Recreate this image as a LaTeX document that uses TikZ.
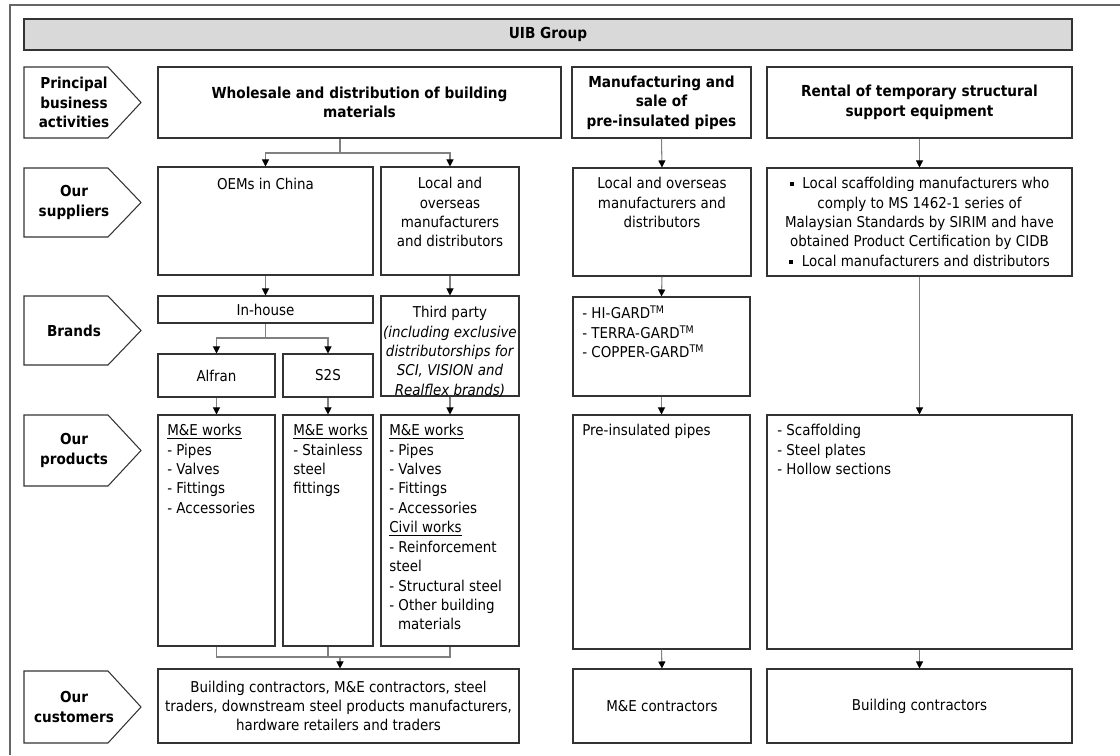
\documentclass[tikz,border=0pt]{standalone}
\usepackage{fontspec}
\setmainfont{DejaVu Sans Condensed}
\usetikzlibrary{arrows.meta,fit}
\definecolor{hdrfill}{HTML}{D9D9D9}
\begin{document}
\begin{tikzpicture}[x=0.02cm,y=-0.02cm,
  box/.style={draw=black!80, line width=0.6pt, inner sep=0pt},
  conn/.style={draw=black!50, line width=0.6pt},
  arr/.style={conn, -{Triangle[length=4pt,width=4pt,color=black]}},
  txt/.style={font=\fontsize{8.5}{11.05}\selectfont, inner sep=0pt},
  bld/.style={font=\bfseries\fontsize{8.65}{11.05}\selectfont, inner sep=0pt, align=center},
  lbl/.style={font=\bfseries\fontsize{8.6}{11.05}\selectfont, inner sep=0pt, align=center},
  pent/.style={draw=black!80, line width=0.6pt}]
\useasboundingbox (0,0) rectangle (1120,755);
\newcommand\pentag[3]{%
  \draw[pent] (24,#1) -- (108,#1) -- (141,{(#1+#2)/2}) -- (108,#2) -- (24,#2) -- cycle;
  \node[lbl] (#3) at (74,{(#1+#2)/2}) {\pentlabel};}
\newcommand\bsq{\rule[1.6pt]{2.3pt}{2.3pt}\hspace{5pt}}
% outer frame
\draw[black!60, line width=0.6pt] (1120,5) -- (10,5) -- (10,755);
% header
\node[box, fill=hdrfill, fit={(24,19) (1072,50)}] (hdr) {};
\node[bld] (hdrt) at (hdr) {UIB Group};
% left labels
\def\pentlabel{Principal\\business\\activities}\pentag{67}{138}{lp1}
\def\pentlabel{Our\\suppliers}\pentag{168}{237}{lp2}
\def\pentlabel{Brands}\pentag{296}{365}{lp3}
\def\pentlabel{Our\\products}\pentag{415}{486}{lp4}
\def\pentlabel{Our\\customers}\pentag{671}{743}{lp5}
% row 1
\node[box, fit={(158,67) (561,138)}] (wd) {};
\node[bld] at (wd) {Wholesale and distribution of building\\materials};
\node[box, fit={(572,67) (751,138)}] (mfg) {};
\node[bld] at (mfg) {Manufacturing and\\sale of\\pre-insulated pipes};
\node[box, fit={(767,67) (1072,138)}] (rent) {};
\node[bld] at (rent) {Rental of temporary structural\\support equipment};
% row 2 suppliers
\node[box, fit={(158,167) (373,275)}] (oem) {};
\node[txt, anchor=north] at (265.5,178) {OEMs in China};
\node[box, fit={(381,167) (519,275)}] (loc) {};
\node[txt, anchor=north, align=center] at (450,177) {Local and\\overseas\\manufacturers\\and distributors};
\node[box, fit={(573,168) (751,276)}] (msup) {};
\node[txt, anchor=north, align=center] at (662,177) {Local and overseas\\manufacturers and\\distributors};
\node[box, fit={(767,168) (1072,276)}] (rsup) {};
\node[txt, anchor=north, align=center] at (919.5,177) {\bsq Local scaffolding manufacturers who\\comply to MS 1462-1 series of\\Malaysian Standards by SIRIM and have\\obtained Product Certification by CIDB\\\bsq Local manufacturers and distributors};
% row 3 brands
\node[box, fit={(158,296) (373,323)}] (inh) {};
\node[txt] at (inh) {In-house};
\node[box, fit={(381,296) (519,396)}] (thp3) {};
\node[txt, anchor=north, align=center] at (450,306) {Third party\\\textit{(including exclusive}\\\textit{distributorships for}\\\textit{SCI, VISION and}\\\textit{Realflex brands)}};
\node[box, fit={(573,297) (750,396)}] (hig) {};
\node[txt, anchor=north west, align=left] at (582,306) {- HI-GARD\textsuperscript{TM}\\- TERRA-GARD\textsuperscript{TM}\\- COPPER-GARD\textsuperscript{TM}};
\node[box, fit={(158,354) (275,397)}] (alf) {};
\node[txt] at (alf) {Alfran};
\node[box, fit={(283,354) (373,397)}] (s2s) {};
\node[txt] at (s2s) {S2S};
% row 4 products
\node[box, fit={(158,415) (275,646)}] (alfp) {};
\node[txt, anchor=north west, align=left] at (167,424) {\underline{M\&E works}\\- Pipes\\- Valves\\- Fittings\\- Accessories};
\node[box, fit={(283,415) (373,646)}] (s2sp) {};
\node[txt, anchor=north west, align=left] at (293,424) {\underline{M\&E works}\\- Stainless\\steel\\fittings};
\node[box, fit={(381,415) (519,646)}] (thp) {};
\node[txt, anchor=north west, align=left] at (389,424) {\underline{M\&E works}\\- Pipes\\- Valves\\- Fittings\\- Accessories\\\underline{Civil works}\\- Reinforcement\\steel\\- Structural steel\\- Other building\\\hspace*{5pt}materials};
\node[box, fit={(573,415) (750,649)}] (pip) {};
\node[txt, anchor=north west] at (582,424) {Pre-insulated pipes};
\node[box, fit={(767,415) (1072,649)}] (rprod) {};
\node[txt, anchor=north west, align=left] at (777,424) {- Scaffolding\\- Steel plates\\- Hollow sections};
% row 5 customers
\node[box, fit={(158,669) (519,743)}] (cust) {};
\node[txt, align=center] at (cust) {Building contractors, M\&E contractors, steel\\traders, downstream steel products manufacturers,\\hardware retailers and traders};
\node[box, fit={(573,669) (751,743)}] (mec) {};
\node[txt] at (mec) {M\&E contractors};
\node[box, fit={(767,669) (1072,743)}] (bc) {};
\node[txt] at (bc) {Building contractors};
% connectors
\coordinate (j1) at (340,153);
\draw[conn] (wd.south -| j1) -- (j1);
\draw[arr] (j1) -| (oem.north);
\draw[arr] (j1) -| (loc.north);
\draw[arr] (oem.south) -- (inh.north);
\draw[arr] (loc.south) -- (thp3.north);
\coordinate (j2) at (265.5,338);
\draw[conn] (inh.south) -- (j2);
\draw[arr] (j2) -| (alf.north);
\draw[arr] (j2) -| (s2s.north);
\draw[arr] (alf.south) -- (alfp.north);
\draw[arr] (s2s.south) -- (s2sp.north);
\draw[arr] (thp3.south) -- (thp.north);
\draw[arr] (mfg.south) -- (msup.north);
\draw[arr] (msup.south) -- (hig.north);
\draw[arr] (hig.south) -- (pip.north);
\draw[arr] (pip.south) -- (mec.north);
\draw[arr] (rent.south) -- (rsup.north);
\draw[arr] (rsup.south) -- (rprod.north);
\draw[arr] (rprod.south) -- (bc.north);
\coordinate (j3) at (340,657);
\draw[conn] (alfp.south) |- (thp.south |- j3) -- (thp.south);
\draw[conn] (s2sp.south) -- (s2sp.south |- j3);
\draw[arr] (j3) -- (j3 |- cust.north);
\end{tikzpicture}
\end{document}
